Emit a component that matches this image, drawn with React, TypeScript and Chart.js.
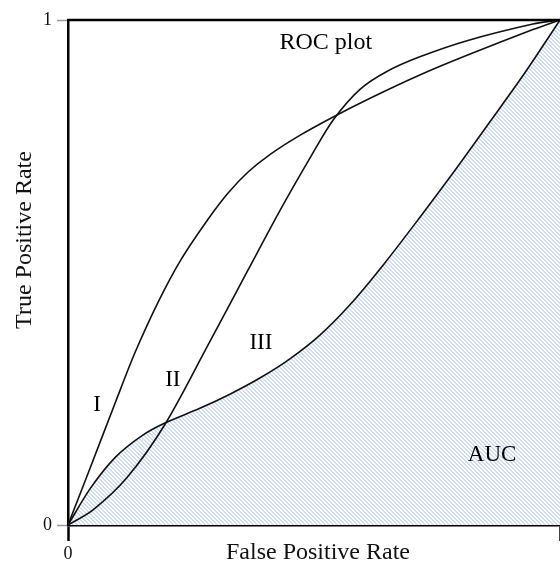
import React, { useEffect, useRef } from "react";
import { Chart, registerables } from "chart.js";

Chart.register(...registerables);

// ROC curves: false positive rate (x) against true positive rate (y)
const fprI = [0, 0.045, 0.098, 0.136, 0.183, 0.23, 0.285, 0.325, 0.366, 0.411, 0.472, 0.539, 0.614, 0.715, 0.811, 0.945, 1];
const tprI = [0, 0.113, 0.247, 0.341, 0.441, 0.526, 0.606, 0.657, 0.699, 0.734, 0.772, 0.808, 0.845, 0.891, 0.93, 0.981, 1];

const fprII = [0, 0.051, 0.12, 0.197, 0.285, 0.366, 0.431, 0.492, 0.539, 0.594, 0.648, 0.715, 0.811, 0.945, 1];
const tprII = [0, 0.03, 0.094, 0.199, 0.357, 0.505, 0.623, 0.727, 0.802, 0.863, 0.898, 0.927, 0.959, 0.992, 1];

const fprIII = [0, 0.045, 0.096, 0.152, 0.197, 0.268, 0.329, 0.39, 0.451, 0.512, 0.573, 0.644, 0.715, 0.787, 0.858, 0.929, 1];
const tprIII = [0, 0.072, 0.134, 0.178, 0.202, 0.231, 0.259, 0.291, 0.329, 0.376, 0.436, 0.519, 0.609, 0.703, 0.799, 0.896, 1];

const axisTicks = [0, 1];
const xTickLabels = ["0", ""];
const yTickLabels = ["0", "1"];

const xTitle = "False Positive Rate";
const yTitle = "True Positive Rate";

// Text labels placed in data space
const notes = [
  { text: "ROC plot", x: 0.524, y: 0.956 },
  { text: "I", x: 0.059, y: 0.238 },
  { text: "II", x: 0.213, y: 0.287 },
  { text: "III", x: 0.392, y: 0.36 },
  { text: "AUC", x: 0.862, y: 0.139 },
];

const SERIF = "'Liberation Serif', 'Times New Roman', serif";

const toPoints = (xs: number[], ys: number[]) => xs.map((x, i) => ({ x, y: ys[i] }));

// Light blue diagonal hatching for the area under curve III
function makeHatch(ctx: CanvasRenderingContext2D): CanvasPattern | string {
  const size = 4;
  const tile = document.createElement("canvas");
  tile.width = size;
  tile.height = size;
  const g = tile.getContext("2d");
  if (!g) return "#e6eef9";
  g.fillStyle = "#ffffff";
  g.fillRect(0, 0, size, size);
  g.fillStyle = "#cfdef6";
  for (let y = 0; y < size; y++) {
    for (let x = 0; x < size; x++) {
      const d = (((x - y) % size) + size) % size;
      if (d === 0 || d === 1) g.fillRect(x, y, 1, 1);
    }
  }
  return ctx.createPattern(tile, "repeat") || "#e6eef9";
}

const decorations = {
  id: "rocDecorations",
  afterDatasetsDraw(chart: any) {
    const { ctx, chartArea, scales } = chart;
    ctx.save();
    // top frame line
    ctx.strokeStyle = "#000";
    ctx.lineWidth = 2.5;
    ctx.beginPath();
    ctx.moveTo(chartArea.left - 1, chartArea.top);
    ctx.lineTo(chartArea.right + 2, chartArea.top);
    ctx.stroke();

    // in-plot labels
    ctx.fillStyle = "#000";
    ctx.textAlign = "center";
    ctx.textBaseline = "middle";
    notes.forEach((n) => {
      ctx.font = n.text === "ROC plot" ? `24px ${SERIF}` : `23px ${SERIF}`;
      ctx.fillText(n.text, scales.x.getPixelForValue(n.x), scales.y.getPixelForValue(n.y));
    });

    // axis titles
    ctx.font = `24px ${SERIF}`;
    ctx.fillStyle = "#111";
    ctx.fillText(xTitle, 318, 553);
    ctx.translate(25, 240);
    ctx.rotate(-Math.PI / 2);
    ctx.fillText(yTitle, 0, 0);
    ctx.restore();
  },
};

export default function App() {
  const ref = useRef<HTMLCanvasElement | null>(null);

  useEffect(() => {
    const canvas = ref.current;
    if (!canvas) return;
    const ctx = canvas.getContext("2d");
    if (!ctx) return;
    const hatch = makeHatch(ctx);

    const lineStyle = {
      borderColor: "#111",
      borderWidth: 1.6,
      pointRadius: 0,
      pointHoverRadius: 0,
      tension: 0.3,
    };

    const chart = new Chart(ctx, {
      type: "line",
      data: {
        datasets: [
          { label: "I", data: toPoints(fprI, tprI), ...lineStyle, fill: false },
          { label: "II", data: toPoints(fprII, tprII), ...lineStyle, fill: false },
          { label: "III", data: toPoints(fprIII, tprIII), ...lineStyle, fill: "origin", backgroundColor: hatch as any },
        ],
      },
      options: {
        animation: false,
        responsive: false,
        events: [],
        layout: { padding: { top: 20, right: 40, bottom: 0, left: 0 } },
        plugins: {
          legend: { display: false },
          tooltip: { enabled: false },
          title: { display: false },
          filler: { drawTime: "beforeDatasetsDraw" },
        } as any,
        scales: {
          x: {
            type: "linear",
            min: 0,
            max: 1,
            z: 1,
            afterBuildTicks: (s: any) => {
              s.ticks = axisTicks.map((v) => ({ value: v }));
            },
            afterFit: (s: any) => {
              s.height = 42;
            },
            ticks: {
              color: "#111",
              padding: 2,
              maxRotation: 0,
              autoSkip: false,
              font: { family: SERIF, size: 18 },
              callback: (_v: any, i: number) => xTickLabels[i],
            },
            grid: {
              drawOnChartArea: false,
              drawTicks: true,
              tickLength: 16,
              tickColor: "#000",
              tickWidth: 2.5,
            },
            border: { display: true, color: "#000", width: 2.5 },
          },
          y: {
            type: "linear",
            min: 0,
            max: 1,
            z: 1,
            afterBuildTicks: (s: any) => {
              s.ticks = axisTicks.map((v) => ({ value: v }));
            },
            afterFit: (s: any) => {
              s.width = 68;
            },
            ticks: {
              color: "#111",
              padding: 5,
              autoSkip: false,
              font: { family: SERIF, size: 18 },
              callback: (_v: any, i: number) => yTickLabels[i],
            },
            grid: {
              drawOnChartArea: false,
              drawTicks: true,
              tickLength: 11,
              tickColor: "#9a9a9a",
              tickWidth: 1.5,
            },
            border: { display: true, color: "#000", width: 2.5 },
          },
        },
      },
      plugins: [decorations],
    });

    return () => chart.destroy();
  }, []);

  return (
    <div style={{ position: "fixed", left: 0, top: 0, width: 560, height: 567, overflow: "hidden", background: "#fff" }}>
      <canvas ref={ref} width={600} height={567} style={{ display: "block", width: 600, height: 567 }} />
    </div>
  );
}
